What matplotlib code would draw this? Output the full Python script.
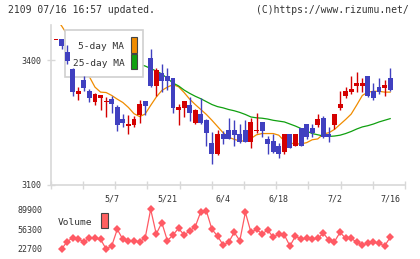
import numpy as np
import matplotlib
matplotlib.use("Agg")
import matplotlib.pyplot as plt
from matplotlib.patches import Rectangle

# daily OHLC, 2021-04-19 .. 2021-07-16
opens = [3449, 3451, 3419, 3380, 3319, 3352, 3325, 3299, 3309, 3299,
         3306, 3287, 3259, 3241, 3243, 3267, 3301, 3406, 3337, 3370,
         3361, 3356, 3280, 3285, 3291, 3248, 3269, 3255, 3200, 3173,
         3221, 3231, 3231, 3221, 3231, 3202, 3228, 3250, 3211, 3204,
         3194, 3178, 3221, 3193, 3236, 3245, 3236, 3243, 3260, 3222,
         3243, 3285, 3313, 3323, 3337, 3337, 3361, 3325, 3335, 3332, 3356]
highs = [3449, 3452, 3436, 3382, 3335, 3362, 3331, 3320, 3316, 3311,
         3314, 3291, 3269, 3267, 3265, 3305, 3302, 3427, 3381, 3390,
         3381, 3358, 3295, 3302, 3311, 3283, 3309, 3257, 3227, 3231,
         3228, 3260, 3255, 3245, 3255, 3260, 3273, 3251, 3216, 3221,
         3200, 3222, 3222, 3222, 3237, 3246, 3245, 3269, 3265, 3240,
         3270, 3325, 3336, 3361, 3371, 3356, 3362, 3346, 3356, 3352, 3381]
lows = [3449, 3426, 3390, 3314, 3304, 3325, 3299, 3293, 3279, 3263,
        3273, 3228, 3239, 3223, 3239, 3249, 3267, 3336, 3314, 3323,
        3327, 3273, 3244, 3263, 3253, 3247, 3247, 3193, 3150, 3171,
        3198, 3209, 3193, 3201, 3202, 3188, 3225, 3214, 3173, 3177,
        3164, 3173, 3187, 3192, 3192, 3210, 3214, 3239, 3213, 3202,
        3235, 3280, 3309, 3318, 3323, 3323, 3312, 3304, 3318, 3314, 3326]
closes = [3449, 3435, 3398, 3323, 3325, 3333, 3309, 3319, 3315, 3301,
          3294, 3243, 3248, 3245, 3259, 3295, 3290, 3337, 3376, 3350,
          3350, 3285, 3286, 3301, 3273, 3281, 3248, 3224, 3173, 3221,
          3210, 3210, 3219, 3202, 3202, 3250, 3230, 3228, 3198, 3178,
          3173, 3221, 3188, 3221, 3193, 3214, 3224, 3259, 3214, 3214,
          3269, 3295, 3325, 3330, 3346, 3346, 3313, 3309, 3323, 3340, 3327]

ma5 = [3500, 3483, 3462, 3438, 3410, 3385, 3360, 3335, 3323, 3322,
       3315, 3306, 3298, 3286, 3271, 3264, 3270, 3291, 3311, 3327,
       3335, 3341, 3336, 3322, 3306, 3293, 3281, 3269, 3255, 3240,
       3225, 3214, 3209, 3205, 3205, 3211, 3220, 3223, 3223, 3223,
       3219, 3205, 3200, 3198, 3198, 3201, 3208, 3210, 3222, 3225,
       3233, 3245, 3257, 3270, 3292, 3315, 3323, 3325, 3325, 3323, 3323]

nan = np.nan
ma25 = [nan] * 12 + [3402, 3398, 3394, 3390, 3386, 3380, 3374, 3367,
        3356, 3345, 3338, 3328, 3320, 3313, 3307, 3300, 3293, 3288,
        3285, 3281, 3278, 3274, 3269, 3263, 3261, 3260, 3258, 3255,
        3253, 3251, 3246, 3241, 3235, 3229, 3223, 3220, 3217, 3216,
        3217, 3219, 3223, 3228, 3234, 3239, 3242, 3246, 3251, 3255, 3259]

volume = [nan, 22700, 35100, 41800, 39600, 35100, 40800, 40800, 39100, 22700,
          27800, 56000, 39100, 36200, 36200, 35100, 40800, 89900, 48100, 67200,
          36800, 46400, 57700, 46400, 53200, 60500, 85900, 87000, 56000, 44700,
          29500, 34000, 51000, 36800, 84800, 51000, 56000, 48100, 54900, 42500,
          48100, 46400, 27800, 44700, 39100, 40800, 39100, 40800, 49300, 37900,
          35100, 51000, 40800, 40800, 34000, 29500, 32300, 34000, 32300, 27800, 42500]

date_idx = [10, 20, 30, 40, 50, 60]
date_labels = ["5/7", "5/21", "6/4", "6/18", "7/2", "7/16"]
price_ticks = [3100, 3400]
vol_ticks = [22700, 56300, 89900]

UP = "#d40000"
DOWN = "#4040c0"
ORANGE = "#f08c00"
GREEN = "#10a010"
VOLC = "#ff5a64"
AXC = "#d8d8d8"
TXT = "#333333"
MONO = "DejaVu Sans Mono"

W, H = 420, 259
fig = plt.figure(figsize=(W / 100, H / 100), dpi=100)

def px_axes(x0, y0, x1, y1):
    return fig.add_axes([x0 / W, 1 - y1 / H, (x1 - x0) / W, (y1 - y0) / H])

xlim = (-0.95, 62.66)

# ---- price panel
ax = px_axes(50.7, 25, 405, 184.5)
ax.set_xlim(*xlim)
ax.set_ylim(3100, 3485)
for s in ["top", "right"]:
    ax.spines[s].set_visible(False)
for s in ["left", "bottom"]:
    ax.spines[s].set_color(AXC)
    ax.spines[s].set_linewidth(1.2)

x = np.arange(len(closes))
o = np.array(opens)
c = np.array(closes)
up = c >= o
cols = np.where(up, UP, DOWN)
ax.vlines(x, lows, highs, colors=cols, linewidth=1, zorder=5)
bottoms = np.minimum(o, c)
heights = np.maximum(np.abs(c - o), 2.4)
ax.bar(x, heights, bottom=bottoms, width=0.88, color=cols, linewidth=0, zorder=6)

ax.plot(x, ma5, color=ORANGE, lw=0.9, zorder=2)
ax.plot(x, ma25, color=GREEN, lw=0.9, zorder=2)

# legend box (drawn under the candles, over the MA lines)
ax.add_patch(Rectangle((0.041, 0.676), 0.2205, 0.293, transform=ax.transAxes,
                       facecolor="white", edgecolor="#d0d0d0", lw=1.2,
                       zorder=3, clip_on=False))
ax.text(0.208, 0.866, "5-day MA", transform=ax.transAxes, ha="right", va="center",
        fontsize=6.8, family=MONO, color=TXT, zorder=4)
ax.text(0.208, 0.757, "25-day MA", transform=ax.transAxes, ha="right", va="center",
        fontsize=6.8, family=MONO, color=TXT, zorder=4)
ax.add_patch(Rectangle((0.227, 0.826), 0.017, 0.1, transform=ax.transAxes,
                       facecolor=ORANGE, edgecolor="#444444", lw=0.8, zorder=4))
ax.add_patch(Rectangle((0.227, 0.725), 0.017, 0.094, transform=ax.transAxes,
                       facecolor=GREEN, edgecolor="#444444", lw=0.8, zorder=4))

ax.set_yticks(price_ticks)
ax.set_yticklabels([str(v) for v in price_ticks], family=MONO, fontsize=6, color=TXT)
ax.tick_params(axis="y", direction="inout", length=6, width=1, color=AXC, pad=4)
ax.set_xticks(np.linspace(xlim[0], xlim[1], 12), minor=True)
ax.set_xticks(date_idx)
ax.set_xticklabels(date_labels, family=MONO, fontsize=6, color=TXT)
ax.tick_params(axis="x", which="major", length=0, pad=7)
ax.tick_params(axis="x", which="minor", direction="inout", length=6, width=1, color=AXC)

# ---- volume panel
axv = px_axes(50.7, 203, 405, 255)
axv.set_xlim(*xlim)
axv.set_ylim(12540, 100570)
axv.plot(x, volume, color=VOLC, lw=0.9, marker="D", markersize=4.3,
         markeredgewidth=0)
for s in axv.spines.values():
    s.set_visible(False)
axv.set_xticks([])
axv.set_yticks(vol_ticks)
axv.set_yticklabels([str(v) for v in vol_ticks], family=MONO, fontsize=6, color=TXT)
axv.tick_params(axis="y", length=0, pad=6)
axv.text(0.021, 0.63, "Volume", transform=axv.transAxes, ha="left", va="center",
         fontsize=6.8, family=MONO, color=TXT)
axv.add_patch(Rectangle((0.142, 0.52), 0.019, 0.29, transform=axv.transAxes,
                        facecolor="#ff6060", edgecolor="#444444", lw=0.8))

fig.text(8 / W, 1 - 10 / H, "2109 07/16 16:57 updated.", ha="left", va="center",
         fontsize=7, family=MONO, color=TXT)
fig.text(409 / W, 1 - 10 / H, "(C)https://www.rizumu.net/", ha="right", va="center",
         fontsize=7, family=MONO, color=TXT)

fig.savefig("out.png", dpi=100)
